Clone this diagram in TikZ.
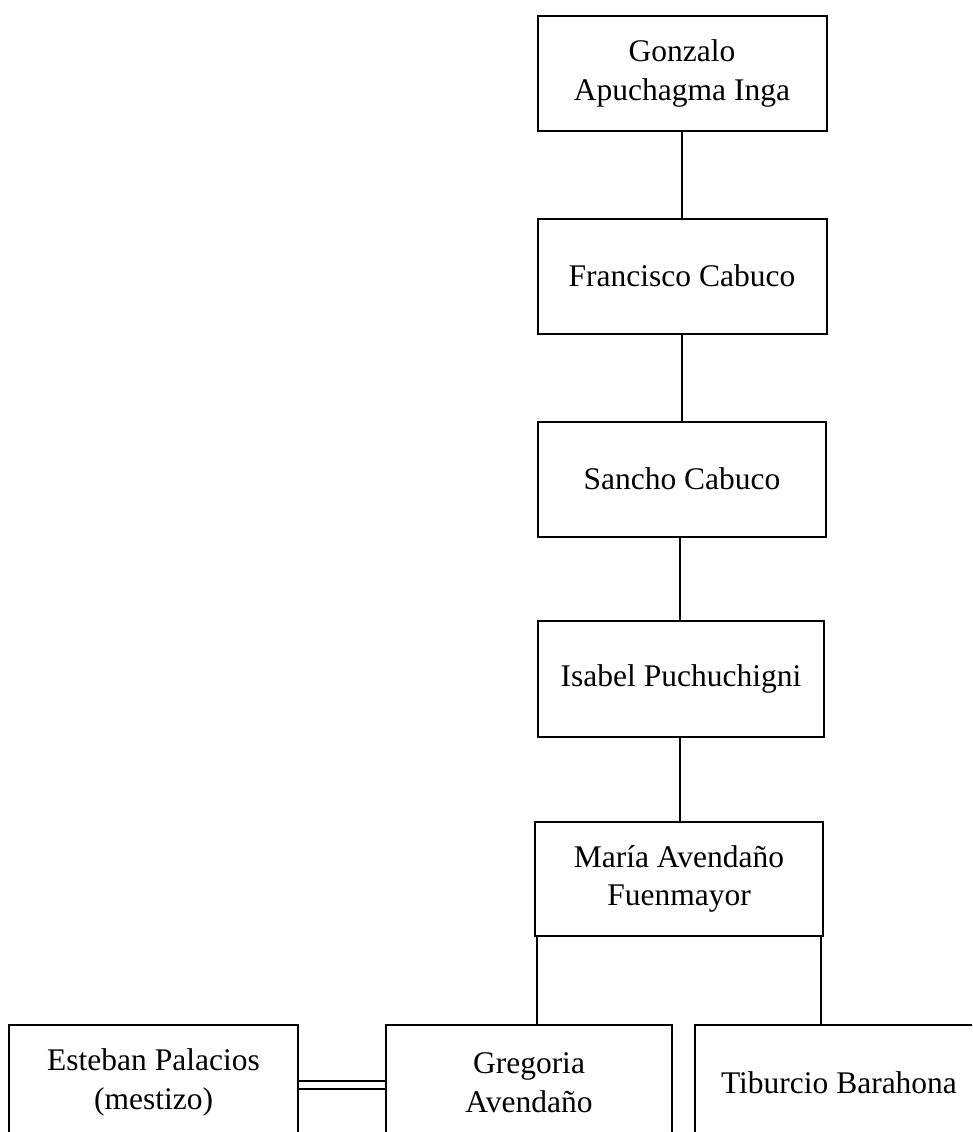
\documentclass[tikz,border=0pt]{standalone}
\usepackage{fontspec}
\setmainfont{Liberation Serif}
\begin{document}
\begin{tikzpicture}[x=1pt,y=-1pt,
  person/.style={draw, line width=2pt, minimum width=289pt, minimum height=115pt,
    inner sep=0pt, align=center, font=\fontsize{31.5}{38.5}\selectfont},
  link/.style={line width=2pt}]
\useasboundingbox (0,0) rectangle (972,1132);
\clip (0,0) rectangle (972,1132);
\fill[white] (0,0) rectangle (972,1132);
\node[person] (gonzalo) at (682,73.5) {Gonzalo\\Apuchagma Inga};
\node[person] (francisco) at (682,276) {Francisco Cabuco};
\node[person, minimum width=288pt] (sancho) at (682,479) {Sancho Cabuco};
\node[person, minimum width=286pt, minimum height=116pt] (isabel) at (681,679) {Isabel Puchuchigni};
\node[person, minimum width=288pt, minimum height=114pt] (maria) at (679,879) {María Avendaño\\Fuenmayor};
\node[person, minimum width=286pt] (gregoria) at (529,1082.5) {Gregoria\\Avendaño};
\node[person] (esteban) at (153.5,1082.5) {Esteban Palacios\\(mestizo)};
\node[person] (tiburcio) at (839,1082.5) {Tiburcio Barahona};
\draw[link] (gonzalo.south) -- (francisco.north);
\draw[link] (francisco.south) -- (sancho.north);
\draw[link] (sancho.south -| 680,0) -- (isabel.north -| 680,0);
\draw[link] (isabel.south -| 680,0) -- (maria.north -| 680,0);
\draw[link] (maria.south -| 537,0) -- (gregoria.north -| 537,0);
\draw[link] (maria.south -| 821,0) -- (tiburcio.north -| 821,0);
\draw[line width=2pt, double, double distance=6pt] (esteban.east |- 0,1085) -- (gregoria.west |- 0,1085);
\end{tikzpicture}
\end{document}
